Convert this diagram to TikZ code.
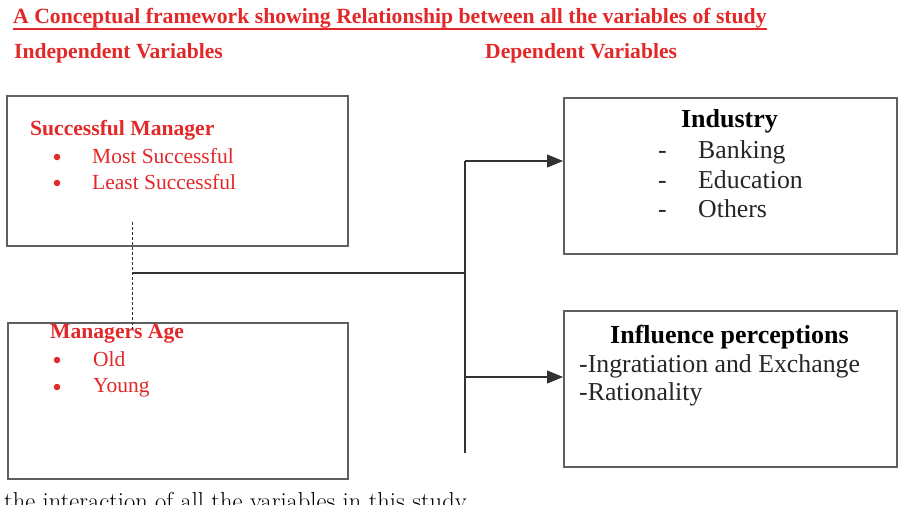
\documentclass[tikz,border=0pt]{standalone}
\usepackage{fontspec}
\setmainfont{Liberation Serif}
\newfontfamily\lmfont{Latin Modern Roman}
\usetikzlibrary{arrows.meta}
\definecolor{redtxt}{RGB}{226,40,40}
\definecolor{boxgray}{RGB}{95,95,95}
\definecolor{linegray}{RGB}{50,50,50}
\tikzset{
  box/.style={draw=boxgray, line width=1.5pt, inner sep=0pt, anchor=north west},
  redb/.style={text=redtxt, font=\fontsize{21.6}{24}\selectfont\bfseries, inner sep=0pt, anchor=base west},
  redr/.style={text=redtxt, font=\fontsize{21.5}{24}\selectfont, inner sep=0pt, anchor=base west},
  bul/.style={circle, fill=redtxt, inner sep=0pt, minimum size=6.5pt},
  blkb/.style={text=black, font=\fontsize{26}{28}\selectfont\bfseries, inner sep=0pt, anchor=base west},
  blkr/.style={text=black!85, font=\fontsize{25.8}{28}\selectfont, inner sep=0pt, anchor=base west},
  conn/.style={draw=linegray, line width=1.1pt},
  arr/.style={conn, -{Triangle[length=16pt,width=13pt]}},
}
\begin{document}
\begin{tikzpicture}[x=1pt,y=-1pt]
\useasboundingbox (0,0) rectangle (916,504);
\clip (0,0) rectangle (916,504);
% title
\node[redb, font=\fontsize{21.7}{24}\selectfont\bfseries] (title) at (13,23) {A Conceptual framework showing Relationship between all the variables of study};
\draw[redtxt, line width=2pt] (title.base west) ++(0,6) coordinate (ul1) -- (title.base east |- ul1) coordinate (ul2);
\node[redb] (indep) at (14,58) {Independent Variables};
\node[redb] (dep) at (485,58) {Dependent Variables};
% boxes
\node[box, minimum width=341pt, minimum height=150pt] (b1) at (6,95) {};
\node[box, minimum width=340pt, minimum height=156pt] (b2) at (7,322) {};
\node[box, minimum width=333pt, minimum height=156pt] (b3) at (563,97) {};
\node[box, minimum width=333pt, minimum height=156pt] (b4) at (563,310) {};
% box 1 text
\node[redb] (sm) at (30,135) {Successful Manager};
\node[bul] (bu1) at (57,157) {};
\node[redr] (ms) at (92,163) {Most Successful};
\node[bul] (bu2) at (57,183) {};
\node[redr] (ls) at (92,189) {Least Successful};
% box 2 text
\node[redb] (ma) at (50,338) {Managers Age};
\node[bul] (bu3) at (57,360) {};
\node[redr] (old) at (93,366) {Old};
\node[bul] (bu4) at (57,387) {};
\node[redr] (yng) at (93,392) {Young};
% industry
\node[blkb, anchor=base] (ind) at (729.5,127) {Industry};
\node[blkr] (d1) at (658,158) {-};
\node[blkr] (bank) at (698,158) {Banking};
\node[blkr] (d2) at (658,188) {-};
\node[blkr] (edu) at (698,188) {Education};
\node[blkr] (d3) at (658,217) {-};
\node[blkr] (oth) at (698,217) {Others};
% influence
\node[blkb] (inf) at (610,343) {Influence perceptions};
\node[blkr] (ing) at (579,372) {-Ingratiation and Exchange};
\node[blkr] (rat) at (579,400) {-Rationality};
% connectors
\coordinate (dtop) at (132,222);
\coordinate (dbot) at (132,331);
\coordinate (hj) at (132,273);
\coordinate (vj) at (465,273);
\coordinate (vtop) at (465,161);
\coordinate (vbot) at (465,453);
\coordinate (a2) at (465,377);
\draw[draw=linegray, line width=1pt, dash pattern=on 3pt off 2pt] (dtop) -- (dbot);
\draw[conn] (hj) -- (vj);
\draw[conn] (vtop) -- (vbot);
\draw[arr] (vtop) -- (vtop -| b3.west);
\draw[arr] (a2) -- (a2 -| b4.west);
% bottom text (cut off by the page edge, as in the reference)
\node[inner sep=0pt, anchor=base west, font=\lmfont\fontsize{24.5}{26}\selectfont] (foot) at (4,509) {the interaction of all the variables in this study};
\end{tikzpicture}
\end{document}
